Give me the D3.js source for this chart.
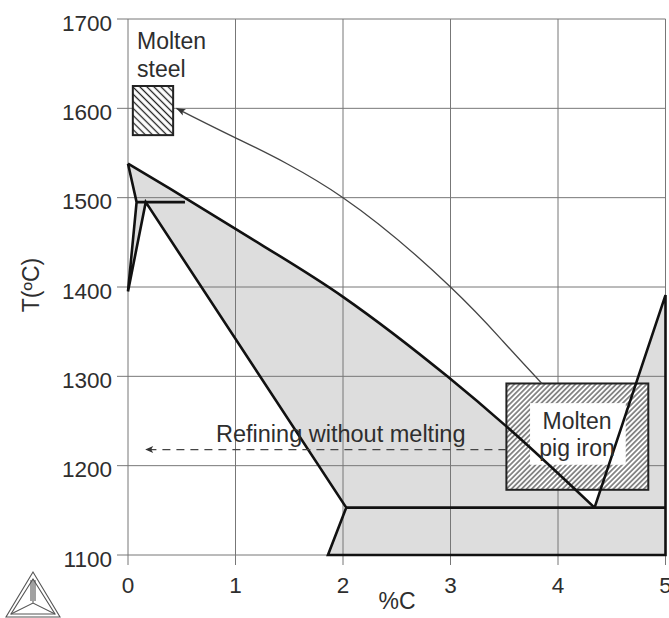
<!DOCTYPE html>
<html lang="en">
<head>
<meta charset="UTF-8">
<title>Fe-C diagram: refining without melting</title>
<script src="https://d3js.org/d3.v7.min.js"></script>
<style>
    body { margin: 0; background: #fff; }
    svg text { font-family: "Liberation Sans", Arial, Helvetica, sans-serif; fill: #2e2e2e; }
</style>
</head>
<body>
<div id="chart"></div>
<script>
// axis ticks
var xTicks = [0, 1, 2, 3, 4, 5];
var yTicks = [1100, 1200, 1300, 1400, 1500, 1600, 1700];

// liquidus (%C, T)
var liqC = [0, 0.39, 1, 2, 2.97, 3.52, 4.34];
var liqT = [1538, 1510, 1465, 1389, 1300, 1244, 1153];

// delta ferrite corner
var deltaC = [0, 0.08, 0, 0.165];
var deltaT = [1538, 1495, 1395, 1495];

// special points
var peritecticT = 1495, peritecticC = [0.08, 0.53];
var eutecticT = 1153, austeniteC = 2.03, eutecticC = 4.34;
var bottomC = 1.86, graphiteTopT = 1391;

// process windows
var steelC = [0.045, 0.42], steelT = [1570, 1625];
var pigC = [3.52, 4.84], pigT = [1173, 1292];
var pigHoleC = [3.74, 4.63], pigHoleT = [1201, 1270];

// transfer arrow (pig iron -> steel)
var arcC = [3.85, 3.49, 3.0, 2.0, 1.0, 0.45];
var arcT = [1292, 1339, 1400, 1500, 1567, 1600];

// refining arrow
var refineT = 1218, refineC = [3.52, 0.16];

var width = 669, height = 618;
var svg = d3.select("#chart").append("svg")
    .attr("width", width).attr("height", height);

var x = d3.scaleLinear().domain([0, 5]).range([128, 665.5]);
var y = d3.scaleLinear().domain([1100, 1700]).range([555, 19]);

var defs = svg.append("defs");
defs.append("pattern").attr("id", "hatchSteel")
    .attr("patternUnits", "userSpaceOnUse").attr("width", 5).attr("height", 5)
    .attr("patternTransform", "rotate(-45)")
    .append("line").attr("x1", 2.5).attr("x2", 2.5).attr("y1", 0).attr("y2", 5)
    .attr("stroke", "#222").attr("stroke-width", 1.3);
defs.append("pattern").attr("id", "hatchPig")
    .attr("patternUnits", "userSpaceOnUse").attr("width", 3.6).attr("height", 3.6)
    .attr("patternTransform", "rotate(45)")
    .append("line").attr("x1", 1.8).attr("x2", 1.8).attr("y1", 0).attr("y2", 3.6)
    .attr("stroke", "#222").attr("stroke-width", 1);
defs.append("marker").attr("id", "headArc")
    .attr("viewBox", "-10 -5 12 10").attr("refX", 0).attr("refY", 0)
    .attr("markerWidth", 12).attr("markerHeight", 10).attr("markerUnits", "userSpaceOnUse")
    .attr("orient", "auto")
    .append("path").attr("d", "M-9,-3.5 L0,0 L-9,3.5 L-7,0 Z").attr("fill", "#333");
defs.append("marker").attr("id", "headDash")
    .attr("viewBox", "-10 -5 12 10").attr("refX", 0).attr("refY", 0)
    .attr("markerWidth", 12).attr("markerHeight", 10).attr("markerUnits", "userSpaceOnUse")
    .attr("orient", "auto")
    .append("path").attr("d", "M-8,-3.5 L0,0 L-8,3.5 L-6,0 Z").attr("fill", "#333");

var line = d3.line().x(d => x(d[0])).y(d => y(d[1]));
var curved = d3.line().x(d => x(d[0])).y(d => y(d[1])).curve(d3.curveMonotoneX);
var smooth = d3.line().x(d => x(d[0])).y(d => y(d[1])).curve(d3.curveNatural);
var liq = liqC.map((c, i) => [c, liqT[i]]);

// gray two-phase fields
var gray = "#dddddd";
var fields = [
    [[deltaC[1], peritecticT], [deltaC[3], peritecticT], [0, deltaT[2]]],
    [[bottomC, 1100], [austeniteC, eutecticT], [5, eutecticT], [5, 1100]],
    [[eutecticC, eutecticT], [5, graphiteTopT], [5, eutecticT]]
];
svg.append("path")
    .attr("d", curved(liq) + "L" + x(austeniteC) + "," + y(eutecticT) +
        "L" + x(deltaC[3]) + "," + y(peritecticT) + "L" + x(deltaC[1]) + "," + y(peritecticT) + "Z")
    .attr("fill", gray);
svg.selectAll("path.field").data(fields).join("path")
    .attr("class", "field").attr("d", d => line(d) + "Z").attr("fill", gray);

// grid and ticks
var gridColor = "#777";
svg.append("g").selectAll("line").data(yTicks).join("line")
    .attr("x1", x(0) - 11).attr("x2", x(5)).attr("y1", d => y(d)).attr("y2", d => y(d))
    .attr("stroke", gridColor).attr("stroke-width", 1);
svg.append("g").selectAll("line").data(xTicks).join("line")
    .attr("y1", y(1700)).attr("y2", y(1100) + 10).attr("x1", d => x(d)).attr("x2", d => x(d))
    .attr("stroke", gridColor).attr("stroke-width", 1);

svg.append("g").selectAll("text").data(yTicks).join("text")
    .attr("x", x(0) - 16).attr("y", d => y(d) + 11.5)
    .attr("text-anchor", "end").attr("font-size", 22.5).text(d => d);
svg.append("g").selectAll("text").data(xTicks).join("text")
    .attr("x", d => x(d)).attr("y", 593)
    .attr("text-anchor", "middle").attr("font-size", 22.5).text(d => d);

svg.append("text").attr("x", 397).attr("y", 609).attr("text-anchor", "middle")
    .attr("font-size", 23).text("%C");
svg.append("text").attr("transform", "translate(39,285) rotate(-90)")
    .attr("text-anchor", "middle").attr("font-size", 23).text("T(\u00baC)");

// process boxes
function box(cs, ts, fill) {
    return svg.append("rect")
        .attr("x", x(cs[0])).attr("y", y(ts[1]))
        .attr("width", x(cs[1]) - x(cs[0])).attr("height", y(ts[0]) - y(ts[1]))
        .attr("fill", fill);
}
box(steelC, steelT, "#fff");
box(steelC, steelT, "url(#hatchSteel)").attr("stroke", "#222").attr("stroke-width", 2);
box(pigC, pigT, "#fff");
box(pigC, pigT, "url(#hatchPig)").attr("stroke", "#222").attr("stroke-width", 2);
box(pigHoleC, pigHoleT, "#fff");

// phase boundaries
var bounds = [
    [[0, deltaT[0]], [deltaC[1], peritecticT], [0, deltaT[2]], [deltaC[3], peritecticT], [austeniteC, eutecticT], [bottomC, 1100], [5, 1100], [5, graphiteTopT], [eutecticC, eutecticT]],
    [[peritecticC[0], peritecticT], [peritecticC[1], peritecticT]],
    [[austeniteC, eutecticT], [5, eutecticT]]
];
svg.append("path").attr("d", curved(liq))
    .attr("fill", "none").attr("stroke", "#111").attr("stroke-width", 2.6);
svg.append("g").selectAll("path").data(bounds).join("path")
    .attr("d", line).attr("fill", "none").attr("stroke", "#111")
    .attr("stroke-width", 2.6).attr("stroke-linejoin", "miter");

// arrows
svg.append("path").attr("d", smooth(arcC.map((c, i) => [c, arcT[i]])))
    .attr("fill", "none").attr("stroke", "#444").attr("stroke-width", 1.3)
    .attr("marker-end", "url(#headArc)");
svg.append("path").attr("d", line(refineC.map(c => [c, refineT])))
    .attr("fill", "none").attr("stroke", "#444").attr("stroke-width", 1.3)
    .attr("stroke-dasharray", "8,6").attr("marker-end", "url(#headDash)");

// labels
svg.append("text").attr("x", 137).attr("y", 49).attr("font-size", 23).text("Molten");
svg.append("text").attr("x", 137).attr("y", 77).attr("font-size", 23).text("steel");
svg.append("text").attr("x", 577).attr("y", 429).attr("text-anchor", "middle").attr("font-size", 23).text("Molten");
svg.append("text").attr("x", 577).attr("y", 456).attr("text-anchor", "middle").attr("font-size", 23).text("pig iron");
svg.append("text").attr("x", 216).attr("y", 442).attr("font-size", 23.5).text("Refining without melting");

// small triangle logo
var logo = svg.append("g").attr("fill", "none").attr("stroke", "#555").attr("stroke-width", 1.1);
logo.append("path").attr("d", "M33,572 L6,617 L60,617 Z");
logo.append("path").attr("d", "M33,579 L11,614 L55,614 Z");
logo.append("path").attr("d", "M33,579 L33,603 M11,614 L33,603 L55,614");
logo.append("path").attr("d", "M31,580 L31,601 M35,580 L35,601");
</script>
</body>
</html>
